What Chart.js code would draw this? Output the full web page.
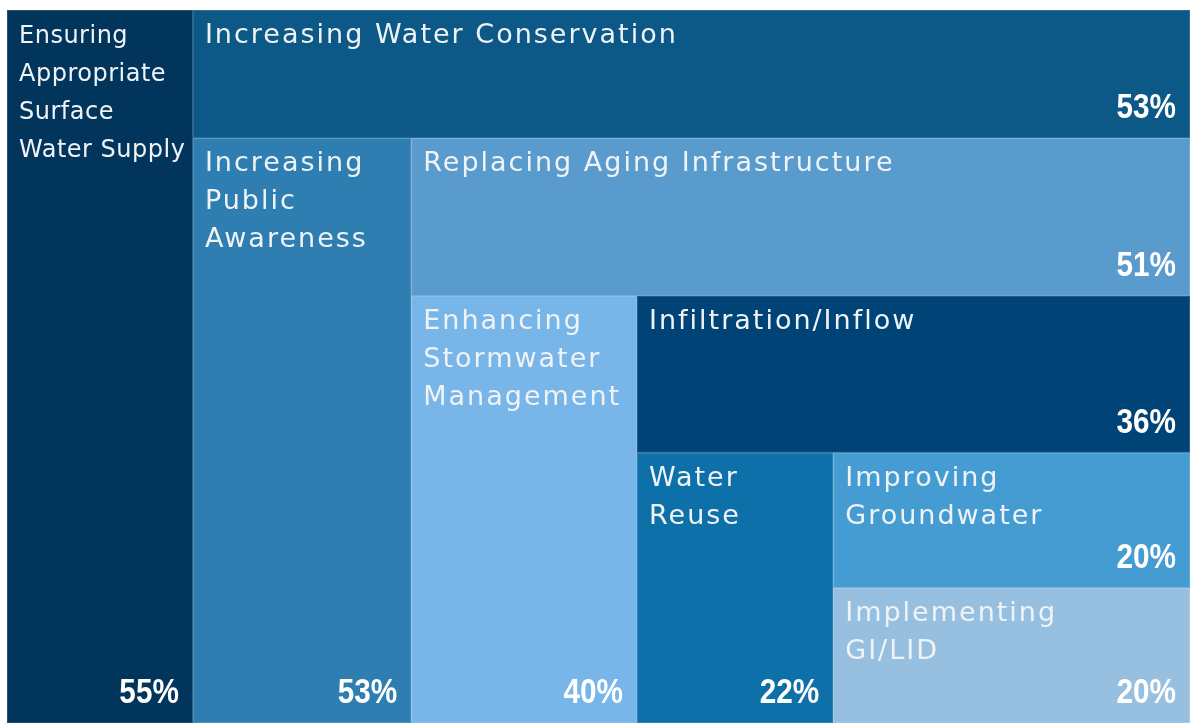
<!DOCTYPE html>
<html>
<head>
<meta charset="utf-8">
<script src="https://cdn.jsdelivr.net/npm/chart.js@4/dist/chart.umd.min.js"></script>
<style>
  html, body { margin: 0; padding: 0; background: #ffffff; }
  #wrap { width: 1190px; height: 723px; }
</style>
</head>
<body>
<div id="wrap"><canvas id="c" width="1190" height="723"></canvas></div>
<script>
// ---- data ----
const categories = [
  ["Ensuring", "Appropriate", "Surface", "Water Supply"],
  ["Increasing Water Conservation"],
  ["Increasing", "Public", "Awareness"],
  ["Replacing Aging Infrastructure"],
  ["Enhancing", "Stormwater", "Management"],
  ["Infiltration/Inflow"],
  ["Water", "Reuse"],
  ["Improving", "Groundwater"],
  ["Implementing", "GI/LID"]
];
const values = [55, 53, 53, 51, 40, 36, 22, 20, 20];
const colors = ["#02355c", "#0c5887", "#2e7eb1", "#5a9bcd", "#78b5e8", "#004477", "#0e70a8", "#459cd2", "#96bfe0"];

// slice-and-dice (spiral) layout in fractional units 0..1, computed from values
function layout(vals) {
  let x0 = 0, y0 = 0, x1 = 1, y1 = 1;
  let remaining = vals.reduce((a, b) => a + b, 0);
  const out = [];
  vals.forEach((v, i) => {
    const last = i === vals.length - 1;
    const f = last ? 1 : v / remaining;
    if (i % 2 === 0) {
      const w = (x1 - x0) * f;
      out.push({ x0: x0, y0: y0, x1: x0 + w, y1: y1 });
      x0 += w;
    } else {
      const h = (y1 - y0) * f;
      out.push({ x0: x0, y0: y0, x1: x1, y1: y0 + h });
      y0 += h;
    }
    remaining -= v;
  });
  return out;
}

const LABEL_FONT = '"DejaVu Sans", "Open Sans", sans-serif';

const treemapPlugin = {
  id: 'treemap',
  afterDatasetsDraw(chart) {
    const ctx = chart.ctx;
    const xs = chart.scales.x, ys = chart.scales.y;
    const cells = layout(values);
    ctx.save();
    cells.forEach((c, i) => {
      const left = xs.getPixelForValue(c.x0), right = xs.getPixelForValue(c.x1);
      const top = ys.getPixelForValue(c.y0), bottom = ys.getPixelForValue(c.y1);
      ctx.fillStyle = colors[i];
      ctx.fillRect(left, top, right - left, bottom - top);
      ctx.strokeStyle = 'rgba(255,255,255,0.14)';
      ctx.lineWidth = 1;
      ctx.strokeRect(left + 0.5, top + 0.5, right - left - 1, bottom - top - 1);
    });
    cells.forEach((c, i) => {
      const left = xs.getPixelForValue(c.x0), right = xs.getPixelForValue(c.x1);
      const top = ys.getPixelForValue(c.y0), bottom = ys.getPixelForValue(c.y1);
      ctx.fillStyle = '#f0f3f6';
      ctx.textAlign = 'left';
      ctx.textBaseline = 'alphabetic';
      let size = 27, spacing = 2;
      const avail = right - left - 14;
      const setFont = () => {
        ctx.font = size + 'px ' + LABEL_FONT;
        ctx.letterSpacing = spacing + 'px';
      };
      setFont();
      let maxW = Math.max(...categories[i].map(t => ctx.measureText(t).width));
      if (maxW > avail) {
        spacing = 0.5;
        setFont();
        maxW = Math.max(...categories[i].map(t => ctx.measureText(t).width));
        if (maxW > avail) { size = Math.floor(size * avail / maxW); setFont(); }
      }
      categories[i].forEach((line, k) => {
        ctx.fillText(line, left + 12, top + 33 + k * 38);
      });
      // percentage: bold, condensed
      ctx.letterSpacing = '0px';
      ctx.font = 'bold 35px "Liberation Sans", Arial, sans-serif';
      ctx.textAlign = 'right';
      ctx.fillStyle = '#ffffff';
      ctx.save();
      ctx.translate(right - 14, bottom - 20);
      ctx.scale(0.85, 1);
      ctx.fillText(values[i] + '%', 0, 0);
      ctx.restore();
    });
    ctx.restore();
  }
};

new Chart(document.getElementById('c'), {
  type: 'scatter',
  data: { datasets: [{ data: [] }] },
  options: {
    responsive: false,
    devicePixelRatio: 1,
    animation: false,
    layout: { padding: { left: 7, top: 10, right: 0, bottom: 0 } },
    plugins: { legend: { display: false }, tooltip: { enabled: false } },
    scales: {
      x: { type: 'linear', min: 0, max: 1, display: false },
      y: { type: 'linear', min: 0, max: 1, reverse: true, display: false }
    }
  },
  plugins: [treemapPlugin]
});
</script>
</body>
</html>
